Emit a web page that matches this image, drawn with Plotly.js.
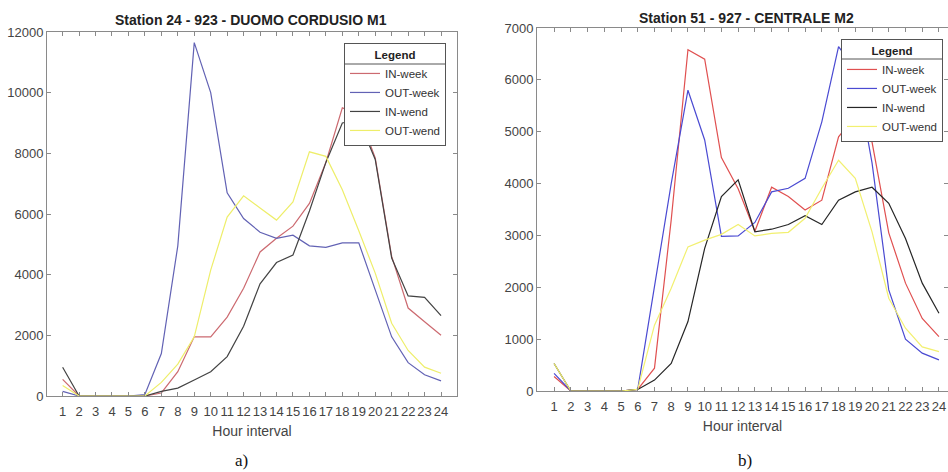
<!DOCTYPE html>
<html>
<head>
<meta charset="utf-8">
<script src="https://cdn.plot.ly/plotly-3.0.1.min.js"></script>
<style>
  html, body { margin: 0; padding: 0; background: #ffffff; }
  #chart { width: 948px; height: 472px; }
</style>
</head>
<body>
<div id="chart"></div>
<script>
// ---- data ----
var hours = [1, 2, 3, 4, 5, 6, 7, 8, 9, 10, 11, 12, 13, 14, 15, 16, 17, 18, 19, 20, 21, 22, 23, 24];
var seriesNames = ['IN-week', 'OUT-week', 'IN-wend', 'OUT-wend'];
var yTicksLeft = [0, 2000, 4000, 6000, 8000, 10000, 12000];
var yTicksRight = [0, 1000, 2000, 3000, 4000, 5000, 6000, 7000];

// Station 24 - 923 - DUOMO CORDUSIO M1
var inWeek24  = [550, 0, 0, 0, 0, 0, 100, 800, 1950, 1950, 2600, 3550, 4750, 5200, 5600, 6350, 7700, 9500, 9300, 7850, 4600, 2900, 2450, 2000];
var outWeek24 = [150, 0, 0, 0, 0, 50, 1400, 4950, 11650, 10000, 6700, 5850, 5400, 5200, 5300, 4950, 4900, 5050, 5050, 3500, 1950, 1100, 700, 500];
var inWend24  = [950, 0, 0, 0, 0, 0, 150, 260, 530, 800, 1300, 2300, 3700, 4400, 4650, 6100, 7700, 9000, 9100, 7800, 4550, 3300, 3250, 2650];
var outWend24 = [350, 0, 0, 0, 0, 0, 450, 1050, 1950, 4150, 5900, 6600, 6200, 5800, 6400, 8050, 7900, 6800, 5450, 4050, 2400, 1500, 950, 750];

// Station 51 - 927 - CENTRALE M2
var inWeek51  = [280, 0, 0, 0, 0, 30, 440, 3300, 6580, 6400, 4500, 3900, 3080, 3930, 3750, 3490, 3680, 4900, 5300, 4800, 3050, 2080, 1400, 1050];
var outWeek51 = [340, 0, 0, 0, 0, 30, 2000, 4000, 5800, 4840, 2980, 2990, 3250, 3840, 3910, 4100, 5190, 6640, 6200, 4400, 1950, 1000, 730, 600];
var inWend51  = [530, 0, 0, 0, 0, 30, 210, 530, 1340, 2750, 3750, 4070, 3070, 3120, 3210, 3380, 3210, 3680, 3840, 3930, 3620, 2940, 2080, 1500];
var outWend51 = [530, 0, 0, 0, 0, 30, 1270, 1980, 2780, 2910, 3020, 3210, 2990, 3040, 3060, 3330, 3910, 4450, 4100, 3070, 1790, 1210, 850, 760];

var colorsLeft  = ['#cc6a70', '#6262b4', '#434343', '#eeee6a'];
var colorsRight = ['#e05050', '#4a4ad2', '#262626', '#f2f070'];

// ---- traces ----
var leftData  = [inWeek24, outWeek24, inWend24, outWend24];
var rightData = [inWeek51, outWeek51, inWend51, outWend51];
var traces = [];
leftData.forEach(function (ys, i) {
  traces.push({
    x: hours, y: ys, type: 'scatter', mode: 'lines', name: seriesNames[i],
    xaxis: 'x', yaxis: 'y', legend: 'legend',
    line: { color: colorsLeft[i], width: 1.2 }
  });
});
rightData.forEach(function (ys, i) {
  traces.push({
    x: hours, y: ys, type: 'scatter', mode: 'lines', name: seriesNames[i],
    xaxis: 'x2', yaxis: 'y2', legend: 'legend2',
    line: { color: colorsRight[i], width: 1.2 }
  });
});

var W = 948, H = 472;
function px(x) { return x / W; }
function py(y) { return (H - y) / H; }

var FONT = 'Liberation Sans, Arial, sans-serif';
var tickFont = { family: FONT, size: 13, color: '#444' };
var axisCommon = {
  showline: true, linecolor: '#8a8a8a', linewidth: 1, mirror: 'ticks',
  ticks: 'inside', ticklen: 4, tickcolor: '#8a8a8a', tickwidth: 1,
  showgrid: false, zeroline: false, tickfont: tickFont, fixedrange: true,
  tickangle: 0
};
function ax(extra) { return Object.assign({}, axisCommon, extra); }

var legendCommon = {
  xanchor: 'left', yanchor: 'top',
  bgcolor: 'rgba(0,0,0,0)', bordercolor: '#555555', borderwidth: 1,
  font: { family: FONT, size: 11.5, color: '#333' },
  title: { text: '<b>Legend</b>', side: 'top center',
           font: { family: FONT, size: 11.5, color: '#222' } },
  tracegroupgap: 0
};

var xTitle = { text: 'Hour interval', font: { family: FONT, size: 14, color: '#444' }, standoff: 8 };

// legend boxes (px): left, top, right, bottom ; separator y
var legBoxes = [
  { l: 344, t: 43, r: 447, b: 139, sep: 63 },
  { l: 841, t: 39, r: 945, b: 135, sep: 59 }
];
function legendShapes(boxes) {
  var s = [];
  boxes.forEach(function (b) {
    s.push({ type: 'rect', layer: 'above', xref: 'paper', yref: 'paper',
             x0: px(b.l), x1: px(b.r), y0: py(b.b), y1: py(b.t),
             fillcolor: '#ffffff', line: { width: 0 } });
  });
  boxes.forEach(function (b) {
    s.push({ type: 'line', layer: 'above', xref: 'paper', yref: 'paper',
             x0: px(b.l), x1: px(b.r), y0: py(b.sep), y1: py(b.sep),
             line: { color: '#555', width: 1 } });
  });
  return s;
}

var layout = {
  width: W, height: H,
  margin: { l: 0, r: 0, t: 0, b: 0 },
  paper_bgcolor: '#ffffff', plot_bgcolor: '#ffffff',
  showlegend: true,
  xaxis: ax({ domain: [px(47), px(457)], range: [0.05, 24.97], tickmode: 'array', tickvals: hours, anchor: 'y',
              ticklabelstandoff: 3, title: xTitle }),
  yaxis: ax({ domain: [py(396), py(32)], range: [0, 12000], tickmode: 'array', tickvals: yTicksLeft,
              tickformat: 'd', anchor: 'x' }),
  xaxis2: ax({ domain: [px(537), 1], range: [-0.02, 24.54], tickmode: 'array', tickvals: hours, anchor: 'y2',
               ticklabelstandoff: 3, title: xTitle }),
  yaxis2: ax({ domain: [py(391), py(28)], range: [0, 7000], tickmode: 'array', tickvals: yTicksRight,
               tickformat: 'd', anchor: 'x2' }),
  legend: Object.assign({}, legendCommon, { x: px(legBoxes[0].l), y: py(legBoxes[0].t) }),
  legend2: Object.assign({}, legendCommon, { x: px(legBoxes[1].l), y: py(legBoxes[1].t) }),
  shapes: legendShapes(legBoxes),
  annotations: [
    { text: '<b>Station 24 - 923 - DUOMO CORDUSIO M1</b>', xref: 'paper', yref: 'paper', x: px(251), y: py(20),
      xanchor: 'center', yanchor: 'middle', showarrow: false,
      font: { family: FONT, size: 14, color: '#222' } },
    { text: '<b>Station 51 - 927 - CENTRALE M2</b>', xref: 'paper', yref: 'paper', x: px(746), y: py(18),
      xanchor: 'center', yanchor: 'middle', showarrow: false,
      font: { family: FONT, size: 14, color: '#222' } },
    { text: 'a)', xref: 'paper', yref: 'paper', x: px(241), y: py(460),
      xanchor: 'center', yanchor: 'middle', showarrow: false,
      font: { family: 'Liberation Serif, Times New Roman, serif', size: 17, color: '#111' } },
    { text: 'b)', xref: 'paper', yref: 'paper', x: px(745), y: py(460),
      xanchor: 'center', yanchor: 'middle', showarrow: false,
      font: { family: 'Liberation Serif, Times New Roman, serif', size: 17, color: '#111' } }
  ]
};

var gd = document.getElementById('chart');
Plotly.newPlot(gd, traces, layout, { displayModeBar: false, staticPlot: true }).then(function () {
  // fit the white backing boxes / separators to the legends as actually drawn
  var host = gd.getBoundingClientRect();
  var ids = ['legend', 'legend2'];
  var boxes = [];
  var ok = true;
  ids.forEach(function (id, i) {
    var g = gd.querySelector('g.' + id + ' rect.bg');
    var t = gd.querySelector('g.' + id + ' .legendtitletext');
    if (!g) { ok = false; return; }
    var r = g.getBoundingClientRect();
    var sep = legBoxes[i].sep;
    if (t) { var tr = t.getBoundingClientRect(); sep = Math.round(tr.bottom - host.top + 3); }
    boxes.push({ l: r.left - host.left, t: r.top - host.top, r: r.right - host.left, b: r.bottom - host.top, sep: sep });
  });
  if (ok && boxes.length === 2) {
    return Plotly.relayout(gd, { shapes: legendShapes(boxes) });
  }
});
</script>
</body>
</html>
